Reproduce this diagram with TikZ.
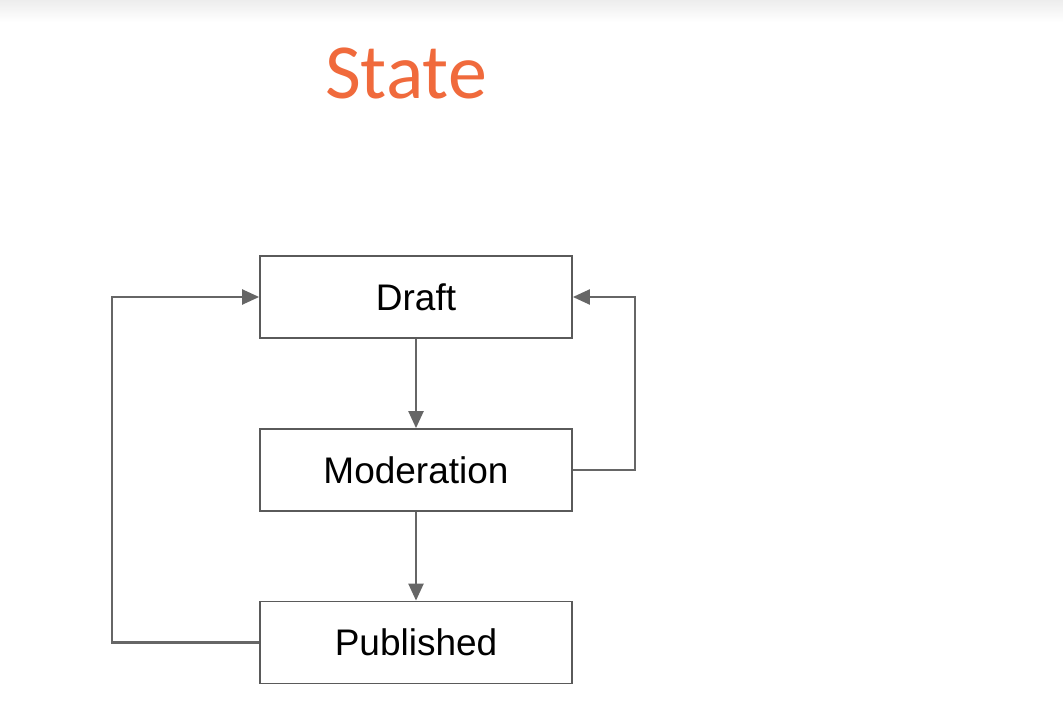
\documentclass[tikz,border=0pt]{standalone}
\usepackage{fontspec}
\setmainfont{Liberation Sans}
\newfontfamily\titlefont{Carlito}
\usetikzlibrary{arrows.meta}
\definecolor{titleorange}{HTML}{F06A3C}
\definecolor{linegray}{HTML}{666666}
\definecolor{boxgray}{HTML}{5A5A5A}
\begin{document}
\begin{tikzpicture}[x=1pt,y=-1pt,
  statebox/.style={draw=boxgray, line width=1.8pt, minimum width=312pt, minimum height=82pt, inner sep=0pt, font=\fontsize{37}{42}\selectfont, text=black},
  conn/.style={draw=linegray, line width=2.3pt, -{Triangle[length=17pt,width=15pt]}}]
\useasboundingbox (0,0) rectangle (1063,719);
\fill[white] (0,0) rectangle (1063,719);
\shade[top color=black!7, bottom color=white] (0,0) rectangle (1063,22);
\node[font=\titlefont\fontsize{78}{80}\selectfont, text=titleorange, anchor=base] (title) at (406,99) {State};
\node[statebox] (draft) at (416,297) {Draft};
\node[statebox] (mod) at (416,470) {Moderation};
\node[statebox] (pub) at (416,642.5) {Published};
\coordinate (lb) at (112,642.5);
\coordinate (lt) at (112,297);
\coordinate (rb) at (635,470);
\coordinate (rt) at (635,297);
\draw[conn] (draft.south) -- (mod.north);
\draw[conn] (mod.south) -- (pub.north);
\draw[conn] (pub.west) -- (lb) -- (lt) -- (draft.west);
\draw[conn] (mod.east) -- (rb) -- (rt) -- (draft.east);
\end{tikzpicture}
\end{document}
